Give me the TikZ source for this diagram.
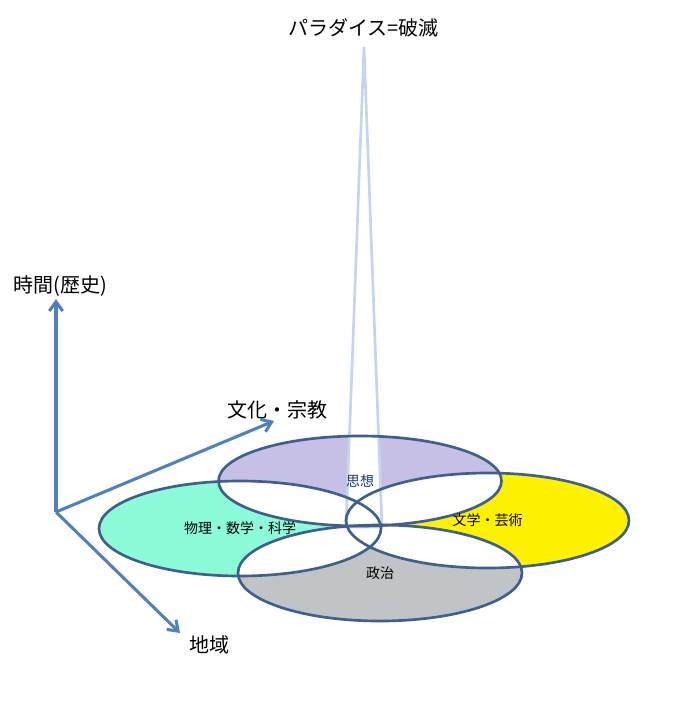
\documentclass[tikz,border=0pt]{standalone}
\usepackage{fontspec}
\setmainfont{Noto Sans CJK JP}
\usepackage{xcolor}
\usetikzlibrary{arrows.meta}
\definecolor{axisblue}{HTML}{4F81BD}
\definecolor{rimblue}{HTML}{3F5F8E}
\definecolor{spireblue}{HTML}{C6D5EE}
\definecolor{shisoupurple}{HTML}{C7C0E6}
\definecolor{butsurigreen}{HTML}{8CFCD8}
\definecolor{bungakuyellow}{HTML}{FFF200}
\definecolor{seijigray}{HTML}{C0C4C7}
\definecolor{shisoutext}{HTML}{1F3864}
\newcommand{\shisou}{(shisou) ellipse [x radius=141.5, y radius=45]}
\newcommand{\butsuri}{(butsuri) ellipse [x radius=141, y radius=47.5]}
\newcommand{\bungaku}{(bungaku) ellipse [x radius=141.5, y radius=47.5]}
\newcommand{\seiji}{(seiji) ellipse [x radius=142, y radius=48]}
\tikzset{
  axis/.style={axisblue, line width=2.3pt, -{Straight Barb[length=7pt,width=10pt]}},
  rim/.style={rimblue, line width=2pt},
  biglabel/.style={font=\fontsize{15}{18}\selectfont},
  smalllabel/.style={font=\fontsize{10.5}{12}\selectfont}
}
\begin{document}
\begin{tikzpicture}[x=0.75pt,y=-0.75pt]
\useasboundingbox (0,0) rectangle (677,721);
\coordinate (shisou) at (360,481);
\coordinate (butsuri) at (240,528.5);
\coordinate (bungaku) at (487.5,520.5);
\coordinate (seiji) at (380,573);
% colour of each field
\fill[shisoupurple] \shisou;
\fill[butsurigreen] \butsuri;
\fill[bungakuyellow] \bungaku;
\fill[seijigray] \seiji;
% overlaps stay white
\begin{scope}\clip \shisou; \fill[white] \butsuri; \fill[white] \bungaku; \fill[white] \seiji; \end{scope}
\begin{scope}\clip \butsuri; \fill[white] \bungaku; \fill[white] \seiji; \end{scope}
\begin{scope}\clip \bungaku; \fill[white] \seiji; \end{scope}
% the spire
\draw[spireblue, line width=2pt, fill=white] (364,47) -- (382,527) -- (346,527) -- cycle;
\draw[rim] \shisou;
\draw[rim] \butsuri;
\draw[rim] \bungaku;
\draw[rim] \seiji;
\node[smalllabel, text=shisoutext] (shisoulabel) at (shisou) {思想};
\node[smalllabel] (butsurilabel) at (butsuri) {物理・数学・科学};
\node[smalllabel] (bungakulabel) at (bungaku) {文学・芸術};
\node[smalllabel] (seijilabel) at (seiji) {政治};
% axes
\coordinate (origin) at (56,512);
\coordinate (timetip) at (56,299);
\coordinate (culturetip) at (274,421);
\coordinate (regiontip) at (180,633);
\draw[axis] (origin) -- (timetip);
\draw[axis] (origin) -- (culturetip);
\draw[axis] (origin) -- (regiontip);
\node[biglabel] (time) at (60,286) {時間(歴史)};
\node[biglabel] (culture) at (277.5,410) {文化・宗教};
\node[biglabel] (region) at (209.5,645) {地域};
\node[biglabel] (paradise) at (363.5,28) {パラダイス=破滅};
\end{tikzpicture}
\end{document}
